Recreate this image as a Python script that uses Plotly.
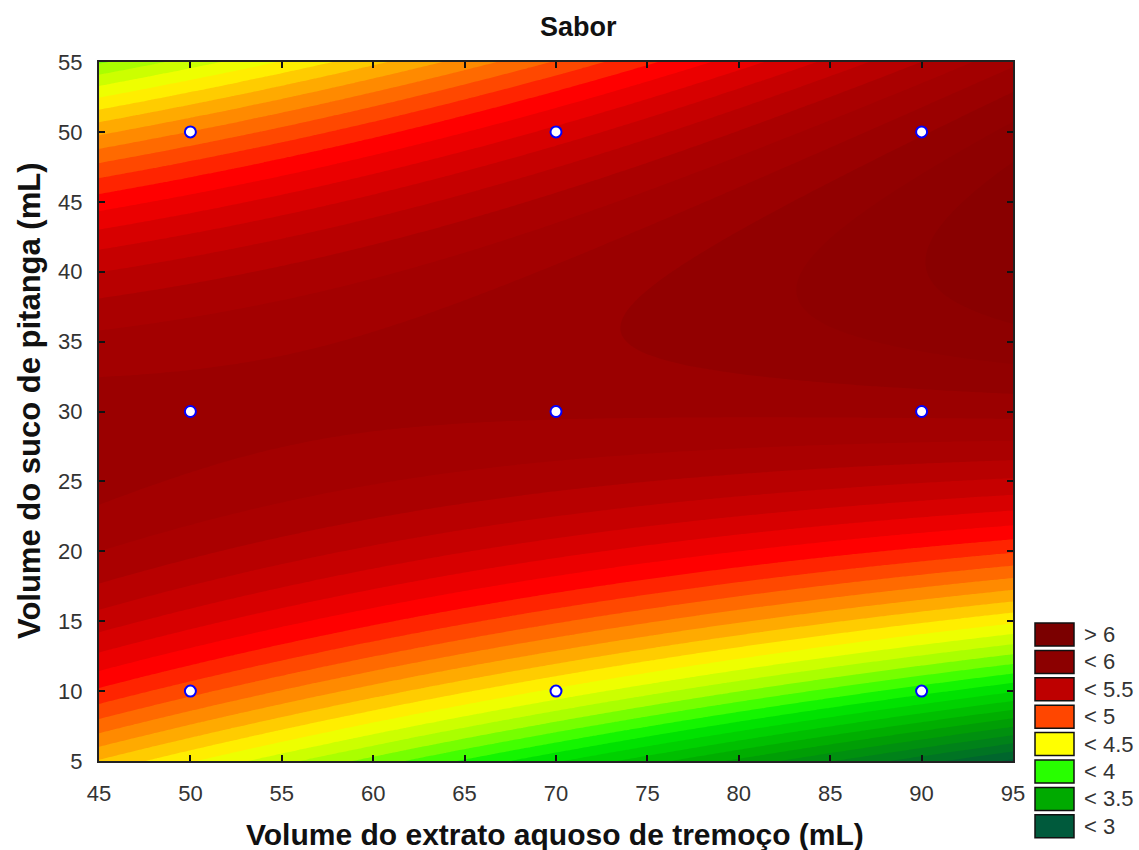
import numpy as np
import plotly.graph_objects as go

# 3x3 factorial design: lupin aqueous extract (mL) x pitanga juice (mL), mean flavour score
extrato_ml = [50, 50, 50, 70, 70, 70, 90, 90, 90]
suco_ml = [10, 30, 50, 10, 30, 50, 10, 30, 50]
sabor = [5.05, 5.90, 4.92, 4.50, 5.87, 5.45, 3.90, 6.00, 5.95]

# Legend classes of the response surface
legend_labels = ["> 6", "< 6", "< 5.5", "< 5", "< 4.5", "< 4", "< 3.5", "< 3"]

x_ticks = list(range(45, 96, 5))
y_ticks = list(range(5, 56, 5))

# ---- styling ----
legend_colors = ["#7B0000", "#8C0000", "#BE0000", "#FF4600",
                 "#FFFF00", "#28FF00", "#00AA00", "#005A3C"]
FONT = "Liberation Sans, Arial, sans-serif"
ZMIN, ZMAX = 2.8, 6.3
color_stops = [
    (2.8, "rgb(0,75,60)"), (3.0, "rgb(0,95,50)"), (3.5, "rgb(0,165,0)"),
    (3.9, "rgb(0,235,0)"), (4.0, "rgb(40,255,0)"), (4.25, "rgb(170,255,0)"),
    (4.5, "rgb(255,255,0)"), (4.75, "rgb(255,170,0)"), (5.0, "rgb(255,90,0)"),
    (5.25, "rgb(255,0,0)"), (5.5, "rgb(205,0,0)"), (5.75, "rgb(170,0,0)"),
    (5.95, "rgb(155,0,0)"), (6.05, "rgb(146,0,0)"), (6.3, "rgb(135,0,0)"),
]
colorscale = [[(v - ZMIN) / (ZMAX - ZMIN), c] for v, c in color_stops]

# ---- quadratic response surface fitted to the design points (coded units) ----
xd = np.array(extrato_ml, float)
yd = np.array(suco_ml, float)
zd = np.array(sabor, float)


def design(u, v):
    return np.column_stack([np.ones_like(u), u, v, u * u, v * v, u * v])


def code_x(x):
    return (x - 70.0) / 20.0


def code_y(y):
    return (y - 30.0) / 20.0


coef, *_ = np.linalg.lstsq(design(code_x(xd), code_y(yd)), zd, rcond=None)

gx = np.linspace(x_ticks[0], x_ticks[-1], 251)
gy = np.linspace(y_ticks[0], y_ticks[-1], 251)
GX, GY = np.meshgrid(gx, gy)
GZ = (design(code_x(GX.ravel()), code_y(GY.ravel())) @ coef).reshape(GX.shape)

fig = go.Figure()
fig.add_trace(go.Contour(
    x=gx, y=gy, z=GZ,
    colorscale=colorscale, zmin=ZMIN, zmax=ZMAX, zauto=False,
    autocontour=False,
    contours=dict(start=ZMIN, end=ZMAX, size=0.1, coloring="fill", showlines=False),
    line=dict(width=0),
    showscale=False, hoverinfo="x+y+z",
))
fig.add_trace(go.Scatter(
    x=extrato_ml, y=suco_ml, mode="markers",
    marker=dict(size=11, color="white", line=dict(color="#0000FF", width=2)),
    showlegend=False, hoverinfo="x+y",
))

L, R, T, B = 99, 126, 62, 89
W, H = 1139, 850
PW, PH = W - L - R, H - T - B


def px_x(p):
    return (p - L) / PW


def px_y(p):
    return (H - B - p) / PH


axis_common = dict(
    ticks="inside", ticklen=6, tickwidth=1.5, tickcolor="#111",
    showline=True, linecolor="#222", linewidth=2, mirror="allticks",
    showgrid=False, zeroline=False,
    tickfont=dict(family=FONT, size=22, color="#333"),
)
fig.update_xaxes(range=[45, 95], tickvals=x_ticks, ticklabelstandoff=12, **axis_common)
fig.update_yaxes(range=[5, 55], tickvals=y_ticks, ticklabelstandoff=10, **axis_common)

annotations = [
    dict(text="<b>Sabor</b>", x=px_x(578), y=px_y(27), xref="paper", yref="paper",
         showarrow=False, font=dict(family=FONT, size=27, color="#111"),
         xanchor="center", yanchor="middle"),
    dict(text="<b>Volume do extrato aquoso de tremoço (mL)</b>", x=px_x(555), y=px_y(834),
         xref="paper", yref="paper", showarrow=False,
         font=dict(family=FONT, size=30, color="#111"), xanchor="center", yanchor="middle"),
    dict(text="<b>Volume do suco de pitanga (mL)</b>", x=px_x(29), y=px_y(401),
         xref="paper", yref="paper", showarrow=False, textangle=-90,
         font=dict(family=FONT, size=31, color="#111"), xanchor="center", yanchor="middle"),
]
shapes = []
for i, (lab, col) in enumerate(zip(legend_labels, legend_colors)):
    top = 623 + 27.4 * i
    shapes.append(dict(type="rect", xref="paper", yref="paper",
                       x0=px_x(1035), x1=px_x(1074), y0=px_y(top + 23), y1=px_y(top),
                       fillcolor=col, line=dict(color="#111", width=1.5)))
    annotations.append(dict(text=lab, x=px_x(1082), y=px_y(top + 11.5), xref="paper",
                            yref="paper", showarrow=False, xanchor="left", yanchor="middle",
                            font=dict(family=FONT, size=22, color="#333")))

fig.update_layout(
    width=W, height=H, margin=dict(l=L, r=R, t=T, b=B),
    paper_bgcolor="white", plot_bgcolor="white",
    annotations=annotations, shapes=shapes, showlegend=False,
)
fig.write_html("out.html")
